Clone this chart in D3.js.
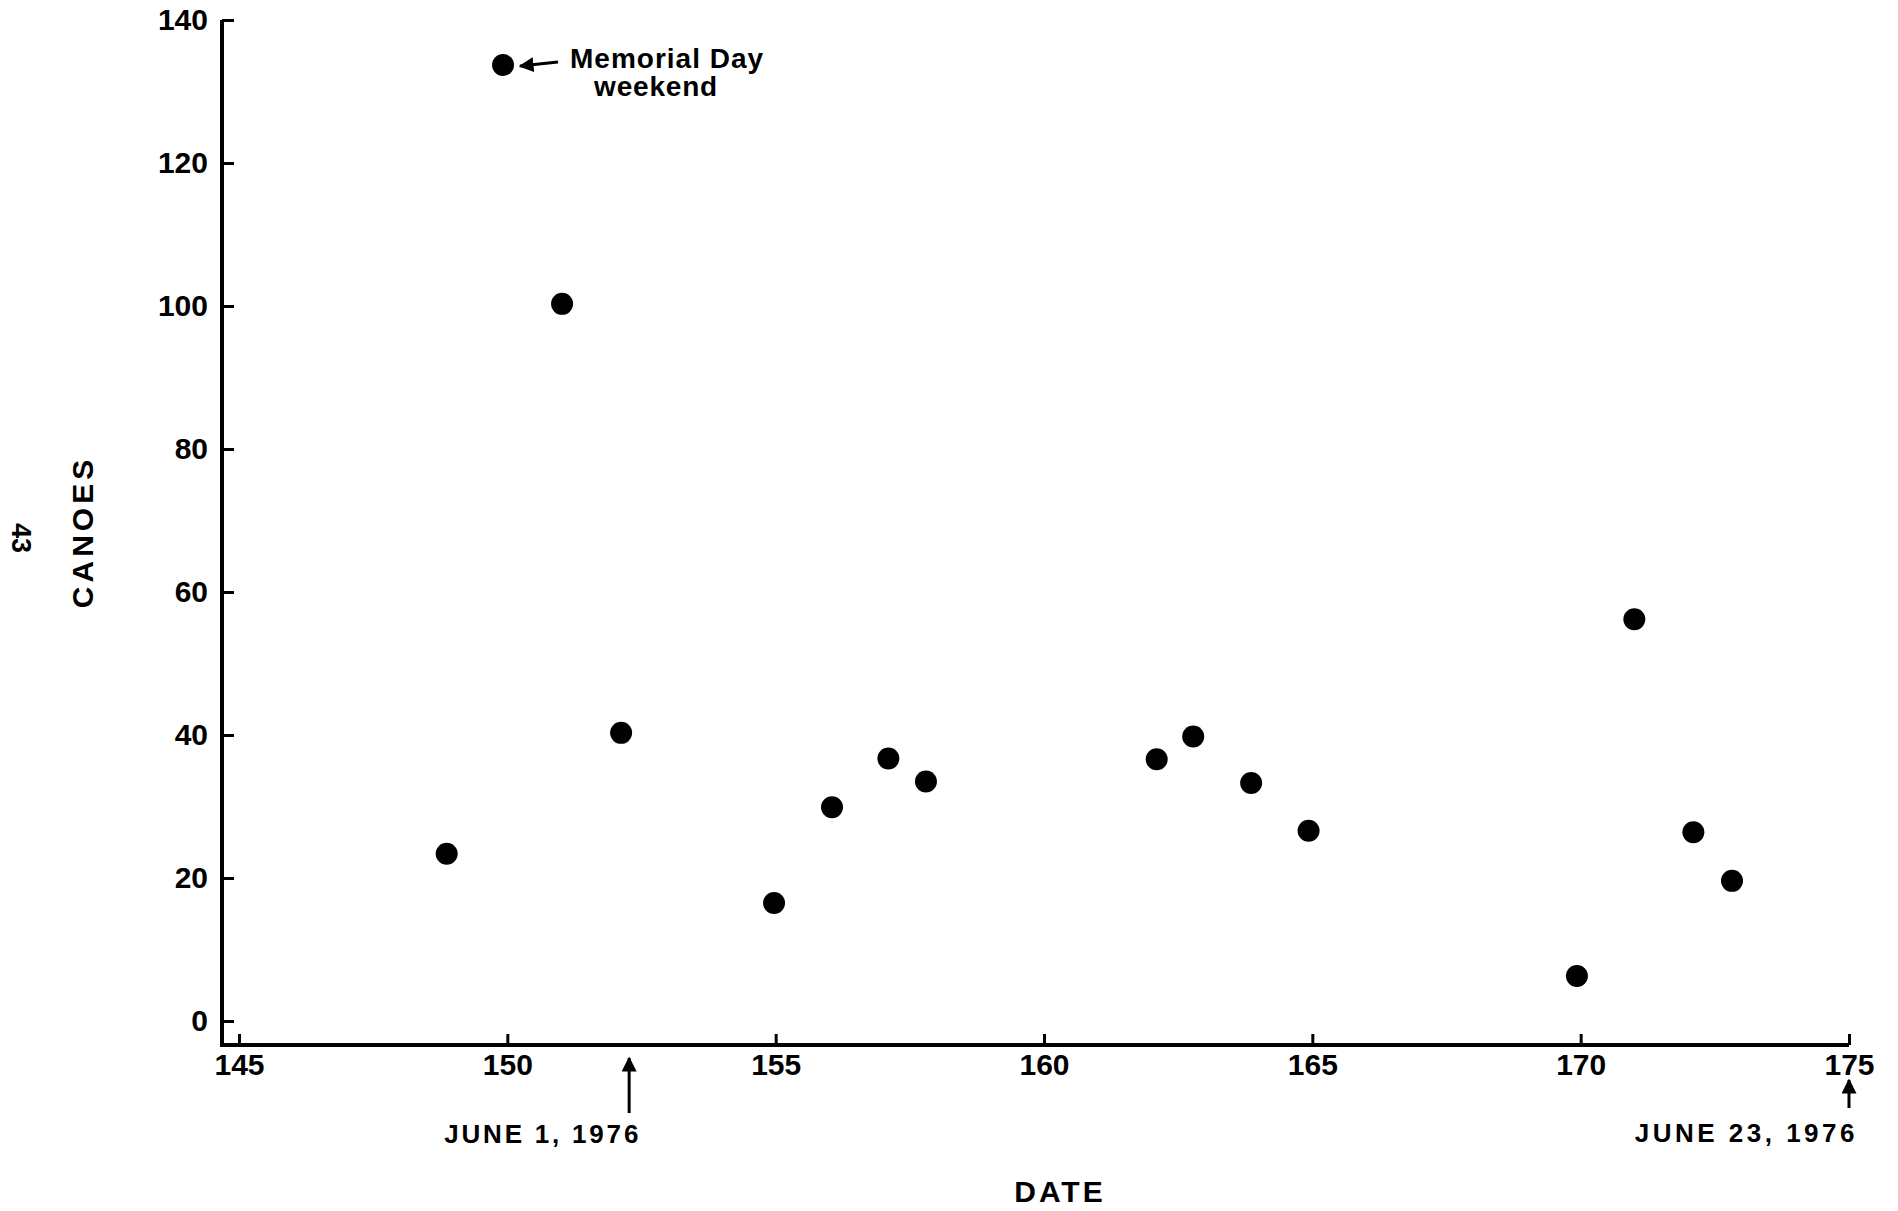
<!DOCTYPE html>
<html>
<head>
<meta charset="utf-8">
<script src="https://cdn.jsdelivr.net/npm/d3@7"></script>
<style>
  html, body { margin: 0; padding: 0; background: #fff; }
  text { font-family: "Liberation Sans", Arial, sans-serif; font-weight: bold; fill: #000; }
</style>
</head>
<body>
<svg id="chart"></svg>
<script>
  "use strict";

  /***** Données *****/
  // jour de l'année (1976) et nombre de canots
  var days = [148.87, 149.92, 151.02, 152.12, 154.97, 156.05, 157.1, 157.8,
              162.1, 162.78, 163.86, 164.93, 169.93, 171.0, 172.1, 172.82];
  var canoes = [23.4, 133.7, 100.3, 40.3, 16.5, 29.9, 36.7, 33.5,
                36.6, 39.8, 33.3, 26.6, 6.3, 56.2, 26.4, 19.6];

  var xTicks = [145, 150, 155, 160, 165, 170, 175];
  var yTicks = [0, 20, 40, 60, 80, 100, 120, 140];

  var dateMarks = [152.27, 175];
  var dateLabels = ["JUNE 1, 1976", "JUNE 23, 1976"];

  var noteDay = 149.92;
  var noteLines = ["Memorial Day", "weekend"];

  /***** Configuration *****/
  var width = 1898;
  var height = 1211;
  var axisX = 222;     // position de l'axe vertical
  var axisY = 1045;    // position de l'axe horizontal

  var x = d3.scaleLinear().domain([145, 175]).range([239, 1849]);
  var y = d3.scaleLinear().domain([0, 140]).range([1021, 20]);

  var svg = d3.select("#chart")
    .attr("width", width)
    .attr("height", height);

  svg.append("defs")
    .append("marker")
    .attr("id", "head")
    .attr("viewBox", "0 0 10 10")
    .attr("refX", 9)
    .attr("refY", 5)
    .attr("markerWidth", 5)
    .attr("markerHeight", 5)
    .attr("orient", "auto")
    .append("path")
    .attr("d", "M0,0 L10,5 L0,10 Z")
    .attr("fill", "#000");

  /***** Axes *****/
  var yAxis = d3.axisLeft(y)
    .tickValues(yTicks)
    .tickSizeInner(-12)
    .tickSizeOuter(0)
    .tickPadding(14);

  var xAxis = d3.axisBottom(x)
    .tickValues(xTicks)
    .tickSizeInner(-11)
    .tickSizeOuter(0)
    .tickPadding(9);

  svg.append("g")
    .attr("transform", "translate(" + axisX + ",0)")
    .call(yAxis);

  svg.append("g")
    .attr("transform", "translate(0," + axisY + ")")
    .call(xAxis);

  svg.selectAll(".domain").remove();
  svg.selectAll(".tick line")
    .attr("stroke", "#000")
    .attr("stroke-width", 3);
  svg.selectAll(".tick text")
    .style("font-size", "30px")
    .style("font-family", "'Liberation Sans', Arial, sans-serif")
    .style("font-weight", "bold");

  // lignes des axes
  svg.append("path")
    .attr("d", "M" + axisX + "," + y(140) + " L" + axisX + "," + axisY + " L" + x(175) + "," + axisY)
    .attr("fill", "none")
    .attr("stroke", "#000")
    .attr("stroke-width", 4)
    .attr("stroke-linejoin", "miter");

  /***** Points *****/
  svg.append("g")
    .selectAll("circle")
    .data(days)
    .enter()
    .append("circle")
    .attr("cx", function (d) { return x(d); })
    .attr("cy", function (d, i) { return y(canoes[i]); })
    .attr("r", 11)
    .attr("fill", "#000");

  /***** Titres *****/
  svg.append("text")
    .attr("transform", "translate(93,532) rotate(-90)")
    .attr("text-anchor", "middle")
    .style("font-size", "30px")
    .style("letter-spacing", "4px")
    .text("CANOES");

  svg.append("text")
    .attr("x", 1060)
    .attr("y", 1202)
    .attr("text-anchor", "middle")
    .style("font-size", "30px")
    .style("letter-spacing", "3px")
    .text("DATE");

  // numéro de page
  svg.append("text")
    .attr("transform", "translate(12,538) rotate(90)")
    .attr("text-anchor", "middle")
    .style("font-size", "27px")
    .text("43");

  /***** Repères de dates *****/
  var marks = svg.append("g")
    .selectAll("g")
    .data(dateMarks)
    .enter()
    .append("g");

  marks.append("line")
    .attr("x1", function (d) { return x(d); })
    .attr("x2", function (d) { return x(d); })
    .attr("y1", function (d, i) { return i === 0 ? 1113 : 1108; })
    .attr("y2", function (d, i) { return i === 0 ? 1058 : 1080; })
    .attr("stroke", "#000")
    .attr("stroke-width", 3)
    .attr("marker-end", "url(#head)");

  marks.append("text")
    .attr("x", function (d, i) { return x(d) + (i === 0 ? 12 : 9); })
    .attr("y", function (d, i) { return i === 0 ? 1143 : 1142; })
    .attr("text-anchor", "end")
    .style("font-size", "26px")
    .style("letter-spacing", function (d, i) { return i === 0 ? "2.8px" : "3.5px"; })
    .text(function (d, i) { return dateLabels[i]; });

  /***** Annotation Memorial Day *****/
  var nx = x(noteDay);
  var ny = y(canoes[1]);

  svg.append("line")
    .attr("x1", nx + 55)
    .attr("y1", ny - 3)
    .attr("x2", nx + 17)
    .attr("y2", ny + 1)
    .attr("stroke", "#000")
    .attr("stroke-width", 3)
    .attr("marker-end", "url(#head)");

  svg.append("text")
    .attr("x", nx + 67)
    .attr("y", 68)
    .style("font-size", "28px")
    .style("letter-spacing", "1px")
    .text(noteLines[0]);

  svg.append("text")
    .attr("x", nx + 153)
    .attr("y", 96)
    .attr("text-anchor", "middle")
    .style("font-size", "28px")
    .style("letter-spacing", "0.8px")
    .text(noteLines[1]);
</script>
</body>
</html>
